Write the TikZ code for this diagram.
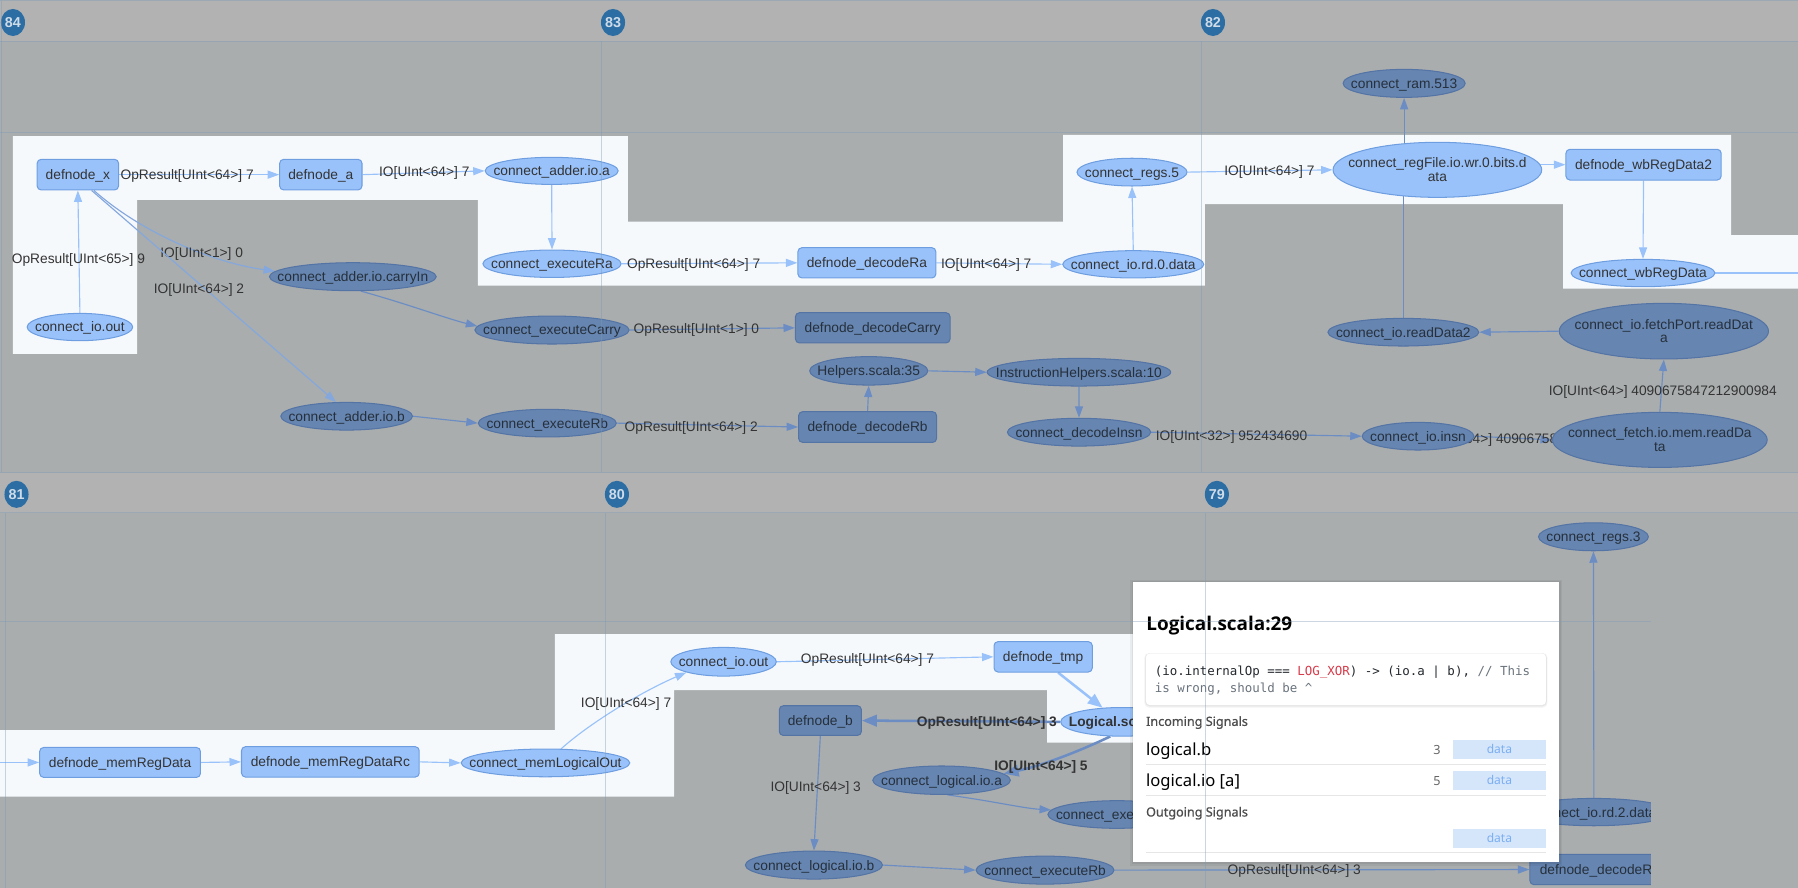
\documentclass[tikz,border=0pt]{standalone}
\usepackage{fontspec}
\setmainfont{Liberation Sans}
\newfontfamily\popfont{Noto Sans}
\newfontfamily\popbold{Open Sans}
\newfontfamily\popmed[FakeBold=0.9]{Noto Sans}
\newfontfamily\codefont{DejaVu Sans Mono}
\usetikzlibrary{shapes.geometric,arrows.meta}
\definecolor{panel}{HTML}{A9ADAE}
\definecolor{headbar}{HTML}{B2B2B2}
\definecolor{hilite}{HTML}{F6F9FC}
\definecolor{lfill}{HTML}{99C2FA}
\definecolor{lborder}{HTML}{6E9EE0}
\definecolor{dfill}{HTML}{6685B0}
\definecolor{dborder}{HTML}{5474A6}
\definecolor{ledge}{HTML}{99C2FA}
\definecolor{dedge}{HTML}{6B8DC4}
\definecolor{medge}{HTML}{84A8DD}
\definecolor{txt}{HTML}{333333}
\definecolor{dtxt}{HTML}{26303C}
\definecolor{gridc}{HTML}{7D9AB8}
\definecolor{badgec}{HTML}{2C6DA4}
\definecolor{badgetxt}{HTML}{CFDCE8}
\definecolor{codered}{HTML}{D73A49}
\definecolor{codegray}{HTML}{6A737D}
\definecolor{codetxt}{HTML}{24292E}
\definecolor{btn}{HTML}{D5E6FB}
\definecolor{btntxt}{HTML}{7AAEF2}
\definecolor{sepc}{HTML}{E6E6E6}
\definecolor{subtxt}{HTML}{4D4D4D}
\definecolor{numtxt}{HTML}{666666}
\pgfdeclarelayer{bg}
\pgfdeclarelayer{edges}
\pgfdeclarelayer{over}
\pgfdeclarelayer{pop}
\pgfdeclarelayer{gridl}
\pgfsetlayers{bg,edges,main,over,pop,gridl}
\newcommand{\ctext}[1]{\smash{\makebox[0pt]{\raisebox{-0.36em}{#1}}}}
\newcommand{\ttext}[2]{\smash{\makebox[0pt]{\raisebox{1.7pt}{#1}}\makebox[0pt]{\raisebox{-10.3pt}{#2}}}}
\begin{document}
\begin{tikzpicture}[x=1pt,y=-1pt,
  nfont/.style={font=\fontsize{12}{12}\selectfont},
  gnode/.style={nfont, inner sep=0pt, line width=0.9pt},
  lnode/.style={gnode, fill=lfill, draw=lborder, text=txt},
  dnode/.style={gnode, fill=dfill, draw=dborder, text=dtxt},
  rbox/.style={rectangle, rounded corners=3.5pt},
  oval/.style={ellipse},
  elabel/.style={nfont, inner sep=0pt, text=txt},
  blabel/.style={inner sep=0pt, text=txt, font=\fontsize{12}{12}\selectfont\bfseries},
  lwire/.style={draw=ledge, line width=1pt, -{Triangle[length=10pt,width=7pt]}},
  dwire/.style={draw=dedge, line width=1pt, -{Triangle[length=10pt,width=7pt]}},
  mwire/.style={draw=medge, line width=1pt, -{Triangle[length=10pt,width=7pt]}},
  lline/.style={draw=ledge, line width=1pt},
  dline/.style={draw=dedge, line width=1pt},
  lthick/.style={draw=ledge, line width=2.2pt, -{Triangle[length=13pt,width=10pt]}},
  dthick/.style={draw=dedge, line width=2.2pt, -{Triangle[length=13pt,width=10pt]}},
  gridline/.style={draw=gridc, opacity=0.4, line width=0.8pt},
  badgenode/.style={ellipse, fill=badgec, minimum width=21pt, minimum height=23.6pt, inner sep=0pt, text=badgetxt, font=\fontsize{12.5}{12}\selectfont\bfseries},
  pbtn/.style={fill=btn},
  psep/.style={draw=sepc, line width=0.8pt}
]
\useasboundingbox (0,0) rectangle (1568,774.4);

% ---------- background ----------
\begin{pgfonlayer}{bg}
\fill[panel] (0,0) rectangle (1568,774.4);
\fill[headbar] (0,0) rectangle (1568,36);
\fill[headbar] (0,412.2) rectangle (1568,447.1);
\fill[hilite] (11.3,118.6) -- (547.5,118.6) -- (547.5,193.3) -- (927.2,193.3) -- (927.2,117.7)
  -- (1509.6,117.7) -- (1509.6,205) -- (1568,205) -- (1568,251.7) -- (1363.2,251.7)
  -- (1363.2,177.9) -- (1050.7,177.9) -- (1050.7,249.1) -- (416.8,249.1) -- (416.8,174.4)
  -- (119.5,174.4) -- (119.5,308.7) -- (11.3,308.7) -- cycle;
\fill[hilite] (0,636.7) -- (483.9,636.7) -- (483.9,553) -- (1000,553) -- (1000,647.7)
  -- (913.2,647.7) -- (913.2,601.8) -- (587.8,601.8) -- (587.8,694.8) -- (0,694.8) -- cycle;
\end{pgfonlayer}

% ---------- header badges ----------
\node[badgenode] (h84) at (11.3,19.6) {\ctext{84}};
\node[badgenode] (h83) at (534.6,19.6) {\ctext{83}};
\node[badgenode] (h82) at (1057.8,19.6) {\ctext{82}};
\node[badgenode] (h81) at (14.4,431.1) {\ctext{81}};
\node[badgenode] (h80) at (538,431.1) {\ctext{80}};
\node[badgenode] (h79) at (1061.2,431.1) {\ctext{79}};

% ---------- top panel nodes ----------
\node[lnode,rbox,minimum width=71pt,minimum height=26.7pt] (x) at (67.9,152.3) {\ctext{defnode\_x}};
\node[lnode,rbox,minimum width=71.8pt,minimum height=26.7pt] (a) at (279.8,152.3) {\ctext{defnode\_a}};
\node[lnode,oval,minimum width=116pt,minimum height=23.6pt] (adda) at (481.1,149) {\ctext{connect\_adder.io.a}};
\node[lnode,oval,minimum width=120.6pt,minimum height=23.9pt] (exRa) at (481.4,230) {\ctext{connect\_executeRa}};
\node[lnode,oval,minimum width=92pt,minimum height=23.8pt] (ioout) at (69.7,285.2) {\ctext{connect\_io.out}};
\node[dnode,oval,minimum width=145.5pt,minimum height=24.4pt] (carry) at (307.7,241.3) {\ctext{connect\_adder.io.carryIn}};
\node[dnode,oval,minimum width=114.8pt,minimum height=24.1pt] (addb) at (302.3,363) {\ctext{connect\_adder.io.b}};
\node[dnode,oval,minimum width=134.5pt,minimum height=24.4pt] (exCarry) at (481.4,287.8) {\ctext{connect\_executeCarry}};
\node[dnode,oval,minimum width=120.4pt,minimum height=24.1pt] (exRb) at (477.3,369) {\ctext{connect\_executeRb}};
\node[lnode,rbox,minimum width=120.3pt,minimum height=26.4pt] (decRa) at (756,229.2) {\ctext{defnode\_decodeRa}};
\node[dnode,rbox,minimum width=134.8pt,minimum height=26.4pt] (decCarry) at (761.1,285.9) {\ctext{defnode\_decodeCarry}};
\node[dnode,oval,minimum width=103pt,minimum height=24.8pt] (helpers) at (757.6,323.4) {\ctext{Helpers.scala:35}};
\node[dnode,oval,minimum width=160pt,minimum height=24.1pt] (ihelpers) at (940.9,324.6) {\ctext{InstructionHelpers.scala:10}};
\node[dnode,rbox,minimum width=120.3pt,minimum height=26.8pt] (decRb) at (756.6,372.4) {\ctext{defnode\_decodeRb}};
\node[dnode,oval,minimum width=125pt,minimum height=24.2pt] (decInsn) at (941,376.9) {\ctext{connect\_decodeInsn}};
\node[lnode,oval,minimum width=123pt,minimum height=23.8pt] (rd0) at (988.3,230.5) {\ctext{connect\_io.rd.0.data}};
\node[lnode,oval,minimum width=96pt,minimum height=24.2pt] (regs5) at (987.2,150.1) {\ctext{connect\_regs.5}};
\node[lnode,oval,minimum width=182pt,minimum height=48pt] (regFile) at (1253.5,148.1) {\ttext{connect\_regFile.io.wr.0.bits.d}{ata}};
\node[dnode,oval,minimum width=106.5pt,minimum height=24.4pt] (ram) at (1224.5,72.7) {\ctext{connect\_ram.513}};
\node[lnode,rbox,minimum width=135.4pt,minimum height=26.8pt] (wb2) at (1433.3,143.6) {\ctext{defnode\_wbRegData2}};
\node[lnode,oval,minimum width=125.4pt,minimum height=23.8pt] (wb) at (1432.8,238.1) {\ctext{connect\_wbRegData}};
\node[dnode,oval,minimum width=131.6pt,minimum height=24.1pt] (rdata2) at (1223.8,289.7) {\ctext{connect\_io.readData2}};
\node[dnode,oval,minimum width=182.5pt,minimum height=48.5pt] (fetchPort) at (1451,288.8) {\ttext{connect\_io.fetchPort.readDat}{a}};
\node[dnode,oval,minimum width=187.3pt,minimum height=48pt] (fetchMem) at (1447.5,383.6) {\ttext{connect\_fetch.io.mem.readDa}{ta}};
\node[dnode,oval,minimum width=97.3pt,minimum height=24.1pt] (insn) at (1236.6,380.4) {\ctext{connect\_io.insn}};
\coordinate (offR) at (1568,238.1);

% ---------- bottom panel nodes ----------
\coordinate (offL) at (0,664.9);
\node[lnode,rbox,minimum width=140.2pt,minimum height=26.1pt] (memReg) at (104.7,664.9) {\ctext{defnode\_memRegData}};
\node[lnode,rbox,minimum width=155pt,minimum height=26.5pt] (memRc) at (288.1,664.4) {\ctext{defnode\_memRegDataRc}};
\node[lnode,oval,minimum width=147.1pt,minimum height=24.2pt] (memLog) at (475.7,665.3) {\ctext{connect\_memLogicalOut}};
\node[lnode,oval,minimum width=92pt,minimum height=25pt] (ioout2) at (631,577.1) {\ctext{connect\_io.out}};
\node[lnode,rbox,minimum width=85.7pt,minimum height=26.5pt] (tmp) at (909.7,572.8) {\ctext{defnode\_tmp}};
\node[lnode,oval,minimum width=107pt,minimum height=25pt,font=\fontsize{12}{12}\selectfont\bfseries] (logical) at (978.5,629.5) {\ctext{Logical.scala:29}};
\node[dnode,rbox,minimum width=71.6pt,minimum height=25.9pt] (defb) at (715.4,628.4) {\ctext{defnode\_b}};
\node[dnode,oval,minimum width=120pt,minimum height=24.8pt] (logA) at (821.1,680.4) {\ctext{connect\_logical.io.a}};
\node[dnode,oval,minimum width=120.4pt,minimum height=24.1pt] (exe) at (974,710.3) {\ctext{connect\_executeRa}};
\node[dnode,oval,minimum width=119.6pt,minimum height=24.4pt] (logB) at (709.8,754.4) {\ctext{connect\_logical.io.b}};
\node[dnode,oval,minimum width=120.3pt,minimum height=24.4pt] (exRb2) at (911.4,758.8) {\ctext{connect\_executeRb}};
\node[dnode,rbox,minimum width=122pt,minimum height=26.4pt] (decRb2) at (1395.2,758.3) {\ctext{defnode\_decodeRb}};
\node[dnode,oval,minimum width=135pt,minimum height=23.8pt] (rd2) at (1390,708.2) {\ctext{connect\_io.rd.2.data}};
\node[dnode,oval,minimum width=95.8pt,minimum height=24.4pt] (regs3) at (1389.6,468.1) {\ctext{connect\_regs.3}};

% ---------- connectors ----------
\begin{pgfonlayer}{edges}
\draw[lwire] (x.east) -- (a.west);
\node[elabel] (l1) at (163.2,152.6) {\ctext{OpResult[UInt<64>] 7}};
\draw[lwire] (a.east) -- (adda.west);
\node[elabel] (l2) at (370,149.6) {\ctext{IO[UInt<64>] 7}};
\draw[lwire] (adda.south) -- (exRa.north);
\draw[lwire] (ioout.north) -- (x.south);
\node[elabel] (l3) at (68.4,225.9) {\ctext{OpResult[UInt<65>] 9}};
\draw[mwire] ([xshift=14pt]x.south) .. controls (120,200) and (180,228) .. (carry.176);
\node[elabel] (l4) at (175.9,220) {\ctext{IO[UInt<1>] 0}};
\draw[mwire] ([xshift=12pt]x.south) -- (addb.127);
\node[elabel] (l5) at (173.5,252) {\ctext{IO[UInt<64>] 2}};
\draw[dwire] (carry.-61) .. controls (352,264) and (390,278) .. (exCarry.177);
\draw[dwire] (addb.east) -- (exRb.west);
\draw[lwire] (exRa.east) -- (decRa.west);
\node[elabel] (l6) at (604.9,229.7) {\ctext{OpResult[UInt<64>] 7}};
\draw[lwire] (decRa.east) -- (rd0.west);
\node[elabel] (l7) at (860.1,230.2) {\ctext{IO[UInt<64>] 7}};
\draw[lwire] (rd0.north) -- (regs5.south);
\draw[lwire] (regs5.east) -- (regFile.west);
\node[elabel] (l8) at (1107,149.1) {\ctext{IO[UInt<64>] 7}};
\draw[dwire] (exCarry.east) -- (decCarry.west);
\node[elabel] (l9) at (607.3,286.9) {\ctext{OpResult[UInt<1>] 0}};
\draw[dwire] (exRb.east) -- (decRb.west);
\node[elabel] (l10) at (602.8,371.8) {\ctext{OpResult[UInt<64>] 2}};
\draw[dwire] (decRb.north) -- (helpers.south);
\draw[dwire] (helpers.east) -- (ihelpers.west);
\draw[dwire] (ihelpers.south) -- (decInsn.north);
\draw[dwire] (decInsn.east) -- (insn.west);
\node[elabel] (l11) at (1074,379.4) {\ctext{IO[UInt<32>] 952434690}};
\draw[dwire] (insn.east) -- (fetchMem.west);
\node[elabel] (l12) at (1332,382.5) {\ctext{IO[UInt<64>] 4090675847212900984}};
\draw[dwire] (fetchMem.north) -- (fetchPort.south);
\node[elabel] (l13) at (1450.1,340.7) {\ctext{IO[UInt<64>] 4090675847212900984}};
\draw[dwire] (fetchPort.west) -- (rdata2.east);
\draw[dline] (rdata2.north) -- (rdata2.north |- regFile.center);
\draw[dwire] (ram.south |- regFile.center) -- (ram.south);
\draw[lwire] (regFile.center |- wb2.west) -- (wb2.west);
\draw[lwire] (wb2.south) -- (wb.north);
\draw[lline] (wb.east) -- (offR);
% bottom
\draw[lwire] (offL) -- (memReg.west);
\draw[lwire] (memReg.east) -- (memRc.west);
\draw[lwire] (memRc.east) -- (memLog.west);
\draw[lwire] (memLog.42) .. controls (515,630) and (560,603) .. (ioout2.196);
\node[elabel] (l14) at (546,612.5) {\ctext{IO[UInt<64>] 7}};
\draw[lwire] (ioout2.east) -- (tmp.west);
\node[elabel] (l15) at (756.5,573.9) {\ctext{OpResult[UInt<64>] 7}};
\draw[lthick] ([xshift=13pt]tmp.south) -- (logical.144);
\draw[dthick] (logical.west) -- (defb.east);
\node[blabel] (l16) at (860.6,628.8) {\ctext{OpResult[UInt<64>] 3}};
\draw[dthick] (logical.231) .. controls (948,652) and (912,667) .. (logA.6);
\node[blabel] (l17) at (907.8,667.8) {\ctext{IO[UInt<64>] 5}};
\draw[dwire] (logA.-68) .. controls (868,699) and (893,705) .. (exe.176);
\draw[dwire] (defb.south) -- (logB.north);
\node[elabel] (l18) at (711.4,685.5) {\ctext{IO[UInt<64>] 3}};
\draw[dwire] (logB.east) -- (exRb2.west);
\draw[dwire] (exRb2.east) -- (decRb2.west);
\node[elabel] (l19) at (1128.7,758.7) {\ctext{OpResult[UInt<64>] 3}};
\draw[dwire] (rd2.north) -- (regs3.south);
\end{pgfonlayer}

% ---------- clip cover of bottom panel ----------
\begin{pgfonlayer}{over}
\fill[panel] (1440,447.1) rectangle (1568,774.4);
\end{pgfonlayer}

% ---------- popup ----------
\begin{pgfonlayer}{pop}
\fill[black,opacity=0.05] (985.4,505.4) rectangle (1362.5,755);
\fill[black,opacity=0.06] (986.9,506.7) rectangle (1361,753.3);
\fill[white] (988.4,507.9) rectangle (1359.5,751.5);
\node[anchor=base west, inner sep=0pt, text=black, font=\popbold\bfseries\fontsize{16.5}{20}\selectfont] (ptitle) at (999.5,549.5) {Logical.scala:29};
\fill[black,opacity=0.05,rounded corners=4pt] (998,569.5) rectangle (1349.5,617);
\fill[black,opacity=0.05,rounded corners=4pt] (998.6,569.6) rectangle (1348.9,615.9);
\fill[white,rounded corners=3.5pt] (999.3,569.8) rectangle (1348.2,614.9);
\node[anchor=base west, inner sep=0pt, text=codetxt, font=\codefont\fontsize{10.87}{13}\selectfont] (code1) at (1006.9,588.7) {(io.internalOp === \textcolor{codered}{LOG\_XOR}) -> (io.a | b), \textcolor{codegray}{// This}};
\node[anchor=base west, inner sep=0pt, text=codegray, font=\codefont\fontsize{10.87}{13}\selectfont] (code2) at (1006.9,604.1) {is wrong, should be \textasciicircum};
\node[anchor=base west, inner sep=0pt, text=subtxt, font=\popmed\fontsize{11}{13}\selectfont] (inc) at (999.3,633) {Incoming Signals};
\node[anchor=base west, inner sep=0pt, text=black, font=\popfont\fontsize{14.5}{17}\selectfont] (sigb) at (999.3,658.5) {logical.b};
\node[anchor=base, inner sep=0pt, text=numtxt, font=\popfont\fontsize{11}{13}\selectfont] (n3) at (1253.1,657.6) {3};
\fill[pbtn] (1267,645.4) rectangle (1348.2,662);
\node[inner sep=0pt, text=btntxt, font=\popfont\fontsize{10.5}{12}\selectfont] (b1) at (1307.6,653.7) {\ctext{data}};
\draw[psep] (999.3,666.6) -- (1348.2,666.6);
\node[anchor=base west, inner sep=0pt, text=black, font=\popfont\fontsize{14.5}{17}\selectfont] (sigio) at (999.3,685.5) {logical.io [a]};
\node[anchor=base, inner sep=0pt, text=numtxt, font=\popfont\fontsize{11}{13}\selectfont] (n5) at (1253.1,684.6) {5};
\fill[pbtn] (1267,672.4) rectangle (1348.2,689);
\node[inner sep=0pt, text=btntxt, font=\popfont\fontsize{10.5}{12}\selectfont] (b2) at (1307.6,680.7) {\ctext{data}};
\draw[psep] (999.3,693.4) -- (1348.2,693.4);
\node[anchor=base west, inner sep=0pt, text=subtxt, font=\popmed\fontsize{11}{13}\selectfont] (outg) at (999.3,712) {Outgoing Signals};
\fill[pbtn] (1267,723) rectangle (1348.2,739.6);
\node[inner sep=0pt, text=btntxt, font=\popfont\fontsize{10.5}{12}\selectfont] (b3) at (1307.6,731.3) {\ctext{data}};
\draw[psep] (999.3,743.4) -- (1348.2,743.4);
\end{pgfonlayer}

% ---------- grid lines ----------
\begin{pgfonlayer}{gridl}
\draw[gridline] (0,0.6) -- (1568,0.6);
\draw[gridline] (0,36) -- (1568,36);
\draw[gridline] (0,115.4) -- (1568,115.4);
\draw[gridline] (0,412) -- (1568,412);
\draw[gridline] (0,447.1) -- (1568,447.1);
\draw[gridline] (0,541.7) -- (1440,541.7);
\draw[gridline] (1.3,0.6) -- (1.3,412);
\draw[gridline] (524.1,36) -- (524.1,412);
\draw[gridline] (1047.6,36) -- (1047.6,412);
\draw[gridline] (4.7,447.1) -- (4.7,774.4);
\draw[gridline] (528,447.1) -- (528,774.4);
\draw[gridline] (1051,447.1) -- (1051,774.4);
\end{pgfonlayer}
\end{tikzpicture}
\end{document}
